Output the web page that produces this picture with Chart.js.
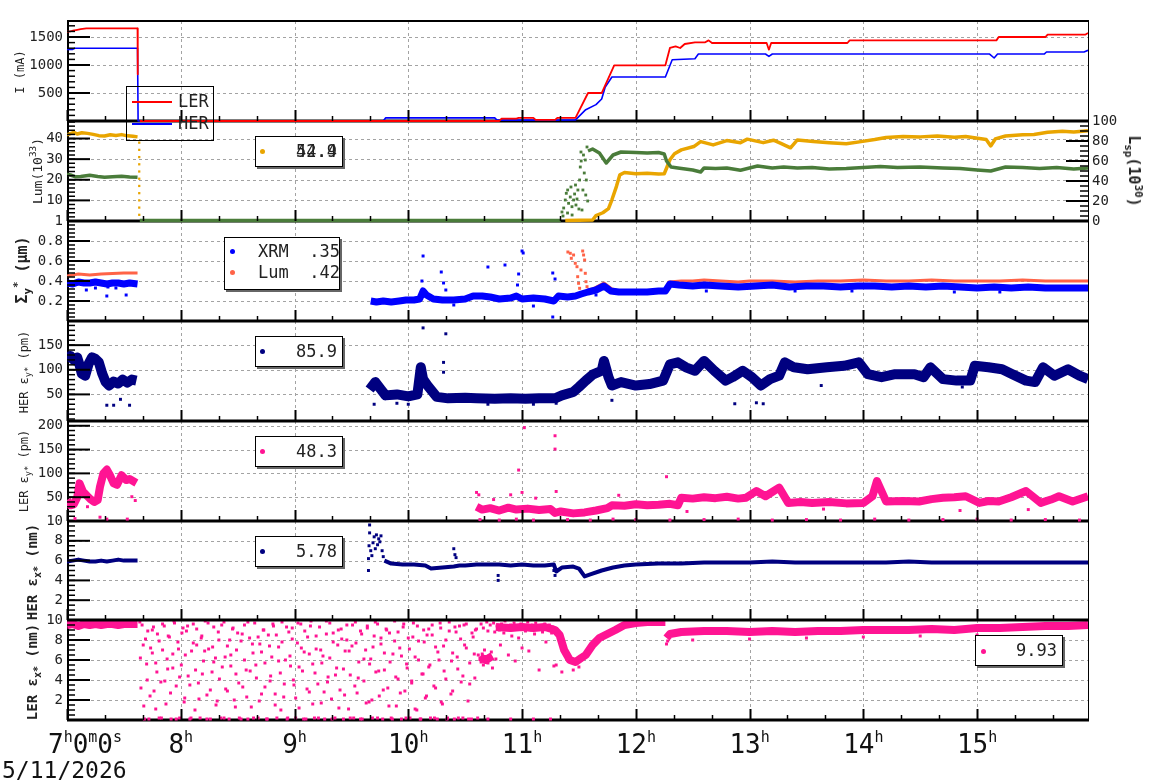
<!DOCTYPE html>
<html lang="en">
<head>
<meta charset="UTF-8" />
<title>Beam monitor 5/11/2026</title>
<script src="https://cdn.jsdelivr.net/npm/chart.js"></script>
<style>
  body { margin: 0; background: #fff; }
  #wrap { position: relative; width: 1160px; height: 782px; overflow: hidden; font-family: "DejaVu Sans Mono", monospace; color: #222; }
  canvas { position: absolute; left: 0; }
  .ttl { position: absolute; transform: translate(-50%, -50%) rotate(-90deg); white-space: nowrap; z-index: 5; }
  .ttl sub, .ttl sup { font-size: 72%; line-height: 0; }
  .box { position: absolute; border: 1px solid #000; background: #fff; box-shadow: 2px 2px 0 #666; font-size: 17px; z-index: 6; }
  .box span { position: absolute; line-height: 17px; white-space: pre; }
  .dot { width: 5px; height: 5px; border-radius: 50%; }
  .ln { height: 1.5px; width: 40px; }
</style>
</head>
<body>
<div id="wrap">
  <div class="ttl" style="left:20px;top:72px;font-size:12px">I (mA)</div>
  <div class="ttl" style="left:37px;top:171px;font-size:13px">Lum(10<sup>33</sup>)</div>
  <div class="ttl" style="left:22px;top:270px;font-size:15px;font-weight:bold">&Sigma;<sub>y</sub><sup>*</sup> (&mu;m)</div>
  <div class="ttl" style="left:24px;top:372px;font-size:12px">HER &epsilon;<sub>y*</sub> (pm)</div>
  <div class="ttl" style="left:24px;top:471px;font-size:12px">LER &epsilon;<sub>y*</sub> (pm)</div>
  <div class="ttl" style="left:32px;top:572px;font-size:14px;font-weight:bold">HER &epsilon;<sub>x*</sub> (nm)</div>
  <div class="ttl" style="left:32px;top:672px;font-size:14px;font-weight:bold">LER &epsilon;<sub>x*</sub> (nm)</div>
  <div class="ttl" style="left:1134px;top:171px;font-size:15px;font-weight:bold;transform:translate(-50%,-50%) rotate(90deg)">L<sub>sp</sub>(10<sup>30</sup>)</div>

  <div class="box" style="left:126px;top:86px;width:86px;height:53px;background:transparent;box-shadow:none">
    <span class="ln" style="left:5px;top:14px;background:#ff0000"></span><span style="left:51px;top:6px">LER</span>
    <span class="ln" style="left:5px;top:36px;background:#0000ff"></span><span style="left:51px;top:28px">HER</span>
  </div>
  <div class="box" style="left:255px;top:136px;width:86px;height:29px">
    <span class="dot" style="left:4px;top:12px;background:#e9a500"></span>
    <span style="right:5px;top:6px">52.9</span><span style="right:5px;top:6px">44.4</span>
  </div>
  <div class="box" style="left:224px;top:237px;width:114px;height:51px">
    <span class="dot" style="left:5px;top:11px;background:#0000ff"></span><span style="left:33px;top:5px">XRM  .35</span>
    <span class="dot" style="left:5px;top:32px;background:#ff6347"></span><span style="left:33px;top:26px">Lum  .42</span>
  </div>
  <div class="box" style="left:255px;top:336px;width:86px;height:29px">
    <span class="dot" style="left:4px;top:12px;background:#000080"></span><span style="right:5px;top:6px">85.9</span>
  </div>
  <div class="box" style="left:255px;top:436px;width:86px;height:29px">
    <span class="dot" style="left:4px;top:12px;background:#ff1493"></span><span style="right:5px;top:6px">48.3</span>
  </div>
  <div class="box" style="left:255px;top:536px;width:86px;height:29px">
    <span class="dot" style="left:4px;top:12px;background:#000080"></span><span style="right:5px;top:6px">5.78</span>
  </div>
  <div class="box" style="left:975px;top:635px;width:86px;height:29px">
    <span class="dot" style="left:5px;top:13px;background:#ff1493"></span><span style="right:5px;top:6px">9.93</span>
  </div>
</div>

<script>
// time axis in hours of 5/11/2026
const hourTicks = [7, 8, 9, 10, 11, 12, 13, 14, 15];
const timeMin = 7, timeMax = 15.975;

// panel 1: beam currents (mA)
const lerCurrent = [[7.00,1595],[7.03,1600],[7.05,1612],[7.08,1625],[7.12,1640],[7.17,1655],[7.62,1655],[7.622,834],[7.623,null],
  [7.64,0],[10.80,0],[10.82,44],[10.95,44],[10.97,55],[11.10,55],[11.12,20],[11.29,20],[11.31,55],[11.47,55],[11.58,500],[11.70,500],
  [11.81,994],[12.26,994],[12.30,1304],[12.35,1333],[12.39,1304],[12.43,1375],[12.52,1405],[12.61,1405],[12.64,1440],[12.67,1393],
  [13.15,1393],[13.17,1274],[13.19,1393],[13.86,1393],[13.88,1440],[15.17,1440],[15.19,1500],[15.60,1500],[15.62,1542],[15.95,1542],[15.975,1571]];
const herCurrent = [[7.00,1280],[7.05,1280],[7.07,1298],[7.62,1298],[7.625,0],[9.78,0],[9.80,55],[10.76,55],[10.78,15],[11.29,15],
  [11.47,20],[11.56,202],[11.65,292],[11.70,393],[11.73,600],[11.79,786],[12.26,786],[12.32,1095],[12.52,1113],[12.55,1196],
  [13.14,1196],[13.17,1155],[13.20,1196],[15.11,1196],[15.15,1125],[15.18,1196],[15.59,1196],[15.61,1232],[15.94,1232],[15.975,1262]];

// panel 2: luminosity (1e33, left) and specific luminosity (1e30, right)
const lum = [[7.00,41.8],[7.03,42.4],[7.06,43.0],[7.09,42.2],[7.13,42.8],[7.18,42.5],[7.23,42.0],[7.28,41.4],[7.33,41.2],[7.38,41.8],
  [7.43,41.5],[7.48,41.9],[7.53,41.3],[7.58,41.1],[7.62,40.8],[7.63,null],[11.38,0.3],[11.62,0.5],[11.65,2.6],[11.71,4],[11.76,6],
  [11.79,10.3],[11.83,16.8],[11.86,22.4],[11.90,23.5],[12.00,22.9],[12.10,23.1],[12.20,22.8],[12.25,22.9],[12.27,25.6],[12.30,29.7],
  [12.34,32.6],[12.40,34.5],[12.51,36.1],[12.57,38.5],[12.68,36.9],[12.80,39.0],[12.92,38.0],[12.98,39.7],[13.12,38.0],[13.21,39.2],
  [13.27,37.8],[13.36,35.5],[13.42,39.3],[13.56,38.6],[13.70,38.0],[13.85,37.5],[13.98,38.5],[14.10,39.5],[14.20,40.5],[14.35,41.0],
  [14.50,40.8],[14.65,41.2],[14.80,40.6],[14.90,41.0],[15.08,39.5],[15.12,36.4],[15.16,39.8],[15.25,41.2],[15.40,41.8],[15.50,42.0],
  [15.62,43.0],[15.75,43.5],[15.85,43.2],[15.975,43.8]];
const lumDrop = [[7.635,38],[7.635,34.5],[7.635,31],[7.635,27.5],[7.635,24],[7.635,20.5],[7.635,17],[7.635,13.5],[7.635,10],[7.635,6.5],[7.635,3]];
const lsp = [[7.00,46.7],[7.03,46.0],[7.07,44.3],[7.12,44.5],[7.20,45.7],[7.27,44.5],[7.33,43.7],[7.40,44.3],[7.48,44.8],[7.55,44.0],
  [7.62,43.7],[7.625,null],[7.64,0.4],[11.34,0.4],[11.345,null],[11.58,70],[11.62,72],[11.68,68],[11.74,58],[11.80,66],[11.87,69],
  [12.00,68.5],[12.10,68],[12.20,68.5],[12.25,67],[12.27,60],[12.31,54],[12.37,53],[12.50,51],[12.57,49],[12.60,53],[12.70,52.5],
  [12.80,53],[12.92,50.7],[13.07,55],[13.20,53],[13.30,54],[13.42,53],[13.55,53.5],[13.70,52],[13.85,52.5],[14.00,53.5],[14.15,54.5],
  [14.30,53.5],[14.50,54],[14.70,53],[14.85,52.5],[15.00,51],[15.12,50],[15.25,54],[15.40,53.5],[15.55,52.5],[15.70,53.5],[15.85,52],[15.975,53]];
const lspSpikes = [[11.351,9],[11.366,13],[11.380,21],[11.389,27.7],[11.401,31],[11.409,17.7],[11.424,24],[11.430,34],[11.439,14.3],
  [11.453,21],[11.462,27],[11.474,16],[11.483,22],[11.491,31],[11.506,41],[11.512,54],[11.518,69],[11.527,11],[11.535,31],[11.547,48],
  [11.556,61],[11.565,41],[11.571,74],[11.577,20],[11.36,5],[11.40,8],[11.44,6],[11.47,36],[11.50,12],[11.52,60],[11.54,66],[11.56,26]];

// panel 3: vertical beam size (um)
const xrmSigma = [[7.00,0.38],[7.05,0.37],[7.10,0.39],[7.15,0.38],[7.20,0.38],[7.25,0.39],[7.30,0.38],[7.35,0.37],[7.40,0.38],[7.45,0.38],
  [7.50,0.37],[7.55,0.38],[7.62,0.37],[7.63,null],[9.67,0.20],[9.72,0.19],[9.78,0.20],[9.85,0.19],[9.92,0.20],[9.98,0.21],[10.05,0.21],
  [10.10,0.22],[10.13,0.30],[10.16,0.26],[10.22,0.22],[10.30,0.21],[10.40,0.21],[10.50,0.22],[10.57,0.25],[10.65,0.25],[10.72,0.24],
  [10.80,0.22],[10.90,0.23],[10.95,0.25],[11.00,0.22],[11.10,0.23],[11.20,0.22],[11.28,0.20],[11.32,0.25],[11.40,0.24],[11.47,0.25],
  [11.52,0.27],[11.58,0.29],[11.65,0.31],[11.72,0.35],[11.78,0.30],[11.85,0.29],[12.00,0.29],[12.10,0.29],[12.20,0.30],[12.26,0.30],
  [12.30,0.37],[12.38,0.36],[12.50,0.35],[12.60,0.36],[12.75,0.35],[12.90,0.34],[13.05,0.35],[13.20,0.36],[13.35,0.34],[13.50,0.35],
  [13.65,0.35],[13.80,0.34],[13.95,0.35],[14.10,0.35],[14.25,0.34],[14.40,0.35],[14.55,0.34],[14.70,0.35],[14.85,0.34],[15.00,0.33],
  [15.15,0.34],[15.30,0.33],[15.45,0.34],[15.60,0.33],[15.75,0.33],[15.90,0.33],[15.975,0.33]];
const xrmOut = [[7.17,0.31],[7.25,0.33],[7.35,0.25],[7.36,0.34],[7.43,0.33],[7.52,0.26],[10.12,0.40],[10.13,0.65],[10.29,0.49],[10.31,0.38],
  [10.33,0.31],[10.70,0.54],[10.85,0.56],[10.96,0.36],[10.97,0.47],[11.00,0.70],[11.01,0.68],[11.27,0.48],[11.29,0.42],[11.27,0.04],
  [10.40,0.16],[11.10,0.15],[11.65,0.26],[12.62,0.30],[13.40,0.30],[14.80,0.29],[13.90,0.30],[15.20,0.29]];
const lumSigma = [[7.00,0.45],[7.05,0.46],[7.10,0.47],[7.20,0.46],[7.30,0.47],[7.40,0.475],[7.50,0.48],[7.62,0.48],[7.63,null],
  [11.58,0.31],[11.62,0.32],[11.72,0.38],[11.79,0.32],[11.85,0.30],[12.00,0.30],[12.10,0.30],[12.20,0.30],[12.26,0.31],[12.29,0.39],
  [12.40,0.40],[12.50,0.40],[12.60,0.41],[12.75,0.40],[12.90,0.39],[13.00,0.40],[13.20,0.40],[13.40,0.39],[13.60,0.40],[13.80,0.40],
  [14.00,0.41],[14.20,0.40],[14.40,0.40],[14.60,0.41],[14.80,0.40],[15.00,0.40],[15.20,0.40],[15.40,0.41],[15.60,0.40],[15.80,0.40],[15.975,0.40]];
const lumSigmaSpike = [[11.403,0.69],[11.424,0.677],[11.433,0.627],[11.453,0.66],[11.468,0.577],[11.483,0.543],[11.489,0.443],
  [11.497,0.377],[11.506,0.327],[11.518,0.51],[11.533,0.70],[11.541,0.66],[11.550,0.61],[11.556,0.477],[11.562,0.393],[11.571,0.343]];

// panel 4: HER vertical emittance (pm)
const herEy = [[7.00,118],[7.03,128],[7.06,120],[7.09,125],[7.11,110],[7.13,92],[7.16,88],[7.19,112],[7.22,125],[7.25,122],[7.28,115],
  [7.31,92],[7.34,75],[7.37,68],[7.41,76],[7.45,72],[7.49,80],[7.53,74],[7.57,80],[7.61,78],[7.62,null],
  [9.66,60],[9.71,75],[9.76,60],[9.80,48],[9.90,50],[10.00,46],[10.08,50],[10.11,105],[10.13,81],[10.17,68],[10.25,45],[10.35,42],
  [10.50,43],[10.60,42],[10.76,41],[10.90,42],[11.03,41],[11.15,42],[11.29,42],[11.35,48],[11.45,55],[11.50,65],[11.56,78],[11.62,90],
  [11.70,98],[11.72,118],[11.76,85],[11.79,68],[11.87,75],[12.00,68],[12.12,71],[12.24,78],[12.30,111],[12.37,115],[12.44,105],
  [12.52,98],[12.60,118],[12.69,98],[12.79,78],[12.85,85],[12.94,98],[13.02,85],[13.10,68],[13.18,81],[13.26,88],[13.31,115],
  [13.39,105],[13.51,101],[13.68,105],[13.83,108],[13.96,115],[14.04,91],[14.16,85],[14.28,91],[14.45,91],[14.53,85],[14.59,105],
  [14.70,81],[14.82,78],[14.94,78],[14.98,108],[15.10,105],[15.22,101],[15.31,91],[15.43,78],[15.51,75],[15.58,105],[15.68,88],
  [15.80,101],[15.90,88],[15.975,81]];
const herEyOut = [[7.35,28],[7.41,28],[7.55,28],[7.47,40],[10.13,185],[10.33,173],[10.31,115],[10.31,95],[11.79,38],[12.87,31],
  [13.06,33],[13.12,31],[14.87,65],[9.70,30],[10.00,30],[11.30,32],[13.63,68],[10.70,30],[11.10,30],[9.90,32]];

// panel 5: LER vertical emittance (pm)
const lerEy = [[7.00,44],[7.03,33],[7.06,35],[7.09,50],[7.11,79],[7.14,62],[7.18,52],[7.21,45],[7.24,40],[7.27,44],[7.29,72],[7.32,100],
  [7.35,108],[7.38,95],[7.41,79],[7.44,76],[7.48,96],[7.52,86],[7.55,88],[7.58,84],[7.61,80],[7.62,null],
  [10.60,30],[10.65,24],[10.72,27],[10.80,22],[10.88,28],[10.95,24],[11.05,26],[11.15,23],[11.25,25],[11.29,17],[11.34,20],[11.45,16],
  [11.55,18],[11.65,22],[11.75,27],[11.79,33],[11.90,32],[12.00,35],[12.10,33],[12.20,34],[12.30,36],[12.37,33],[12.40,49],[12.50,47],
  [12.60,50],[12.70,48],[12.80,51],[12.90,47],[12.97,49],[13.06,63],[13.14,52],[13.26,70],[13.34,38],[13.45,40],[13.55,38],[13.70,40],
  [13.85,37],[14.00,38],[14.08,52],[14.12,84],[14.20,41],[14.35,42],[14.49,41],[14.60,46],[14.70,49],[14.80,50],[14.90,52],[15.02,38],
  [15.10,42],[15.19,41],[15.30,50],[15.43,63],[15.56,38],[15.65,45],[15.72,52],[15.84,41],[15.975,52]];
const lerEyOut = [[7.18,30],[7.07,5],[7.35,4],[7.53,4],[7.29,8],[7.57,51],[7.60,43],[11.02,196],[11.29,179],[11.29,151],[10.97,107],
  [12.27,93],[11.85,54],[10.60,60],[10.62,55],[10.90,55],[11.00,60],[11.30,62],[10.75,45],[11.12,48],[10.63,3],[10.80,2],[10.95,4],
  [11.10,2],[11.40,3],[11.60,2],[11.80,4],[12.00,3],[12.30,2],[12.60,3],[12.90,4],[13.20,2],[13.50,3],[13.80,2],[14.10,4],[14.40,2],
  [14.70,3],[15.00,4],[15.30,2],[15.60,3],[15.90,2],[12.45,20],[13.65,25],[14.85,22],[15.45,24]];

// panel 6: HER horizontal emittance (nm)
const herEx = [[7.00,5.9],[7.05,6.0],[7.10,6.1],[7.15,6.0],[7.20,5.9],[7.25,5.9],[7.30,6.0],[7.35,5.9],[7.40,6.0],[7.45,6.1],[7.50,6.0],
  [7.55,6.0],[7.62,6.0],[7.63,null],[9.79,6.0],[9.85,5.7],[9.95,5.6],[10.05,5.6],[10.15,5.5],[10.20,5.2],[10.30,5.3],[10.40,5.4],
  [10.45,5.5],[10.50,5.5],[10.60,5.6],[10.70,5.6],[10.80,5.6],[10.90,5.5],[11.00,5.6],[11.10,5.5],[11.20,5.5],[11.28,5.6],[11.30,4.9],
  [11.35,5.3],[11.45,5.4],[11.50,5.2],[11.55,4.4],[11.60,4.6],[11.70,5.0],[11.80,5.3],[11.90,5.5],[12.00,5.6],[12.20,5.7],[12.40,5.7],
  [12.60,5.8],[12.80,5.8],[13.00,5.8],[13.20,5.9],[13.40,5.8],[13.60,5.8],[13.80,5.8],[14.00,5.8],[14.20,5.8],[14.40,5.9],[14.60,5.8],
  [14.80,5.8],[15.00,5.8],[15.20,5.8],[15.40,5.8],[15.60,5.8],[15.80,5.8],[15.975,5.8]];
const herExSpike = [[9.65,5.0],[9.65,6.2],[9.655,7.5],[9.66,8.8],[9.66,9.6],[9.67,7.0],[9.68,6.5],[9.69,7.8],[9.70,8.4],[9.71,7.2],
  [9.72,8.6],[9.73,7.6],[9.74,8.2],[9.75,7.9],[9.76,8.5],[9.77,7.0],[9.78,6.4],[10.40,7.2],[10.41,6.6],[10.42,6.3],[10.79,4.0],
  [10.79,4.5],[11.29,4.5],[11.28,5.0]];

// panel 7: LER horizontal emittance (nm)
const lerEx = [[7.00,9.5],[7.05,9.6],[7.10,9.4],[7.15,9.6],[7.20,9.5],[7.25,9.6],[7.30,9.5],[7.35,9.6],[7.40,9.6],[7.45,9.5],[7.50,9.6],
  [7.55,9.6],[7.62,9.6],[7.63,null],[10.63,6.3],[10.68,6.0],[10.74,6.4],[10.75,null],[10.77,9.3],[10.90,9.2],[11.00,9.3],[11.10,9.2],
  [11.20,9.3],[11.29,9.0],[11.33,8.5],[11.37,7.0],[11.42,6.0],[11.47,5.8],[11.52,6.2],[11.56,6.5],[11.62,7.5],[11.68,8.2],[11.75,8.6],
  [11.82,9.0],[11.90,9.5],[12.00,9.7],[12.10,9.8],[12.20,9.8],[12.26,9.8],[12.265,null],[12.27,8.2],[12.30,8.6],[12.40,8.8],[12.60,8.9],
  [12.80,8.9],[13.00,8.8],[13.20,8.9],[13.40,8.8],[13.60,8.9],[13.80,8.9],[14.00,9.0],[14.20,9.0],[14.40,9.0],[14.60,9.1],[14.80,9.0],
  [15.00,9.2],[15.20,9.2],[15.40,9.3],[15.60,9.4],[15.80,9.4],[15.975,9.5]];
const lerExMix = [[10.63,6.2],[10.64,5.8],[10.64,9.6],[10.65,6.6],[10.66,5.5],[10.66,9.2],[10.67,7.0],[10.68,6.0],[10.69,9.8],[10.70,5.7],
  [10.70,8.9],[10.71,6.4],[10.72,9.5],[10.73,6.8],[10.74,5.2],[10.75,9.7],[10.76,8.8],[10.77,6.1],[10.78,9.4],[10.80,9.0],[10.81,7.5],
  [10.82,9.6],[10.84,8.7],[10.85,9.9],[10.87,9.2],[10.88,6.5],[10.90,9.5],[10.91,8.4],[10.93,9.7],[10.94,5.9],[10.96,9.1],[10.97,8.2],
  [10.99,9.6],[11.00,7.2],[11.02,9.3],[11.03,8.9],[11.05,9.8],[11.06,6.9],[11.08,9.0],[11.09,9.5],[11.11,8.6],[11.12,9.7],[11.14,9.2],
  [11.15,5.0],[11.17,9.4],[11.18,8.8],[11.20,9.6],[11.21,7.8],[11.23,9.1],[11.24,9.5],[11.26,8.7],[11.27,9.3],[11.28,5.4],[10.70,0.1],
  [10.90,0.1],[11.10,0.1],[11.25,0.1],[12.27,7.6],[12.28,7.9],[11.30,5.5],[11.35,4.8],[11.45,5.0],[11.50,5.3],[12.50,8.0],[13.00,8.1],
  [13.50,8.2],[14.00,8.3],[14.50,8.4],[15.00,8.5]];
const lerExCloudA = [[7.64,9.8],[7.65,3.2],[7.67,7.5],[7.68,0.1],[7.70,5.6],[7.71,8.9],[7.73,2.4],[7.75,6.7],[7.76,9.3],[7.78,1.1],
  [7.79,4.8],[7.81,7.9],[7.83,0.2],[7.84,9.6],[7.86,3.9],[7.88,6.1],[7.89,8.4],[7.91,2.7],[7.93,5.2],[7.94,9.9],[7.96,0.1],[7.98,7.1],
  [7.99,4.3],[8.01,8.7],[8.03,1.8],[8.04,6.5],[8.06,9.4],[8.08,3.5],[8.09,0.2],[8.11,7.7],[8.13,5.0],[8.14,9.1],[8.16,2.1],[8.18,8.2],
  [8.19,4.6],[8.21,6.9],[8.23,0.1],[8.24,9.7],[8.26,3.0],[8.28,7.3],[8.29,5.8],[8.31,1.5],[8.33,8.8],[8.34,4.1],[8.36,9.5],[8.38,0.2],
  [8.39,6.3],[8.41,2.9],[8.43,8.0],[8.44,5.4],[8.46,9.2],[8.48,1.3],[8.49,7.0],[8.51,3.7],[8.53,0.1],[8.54,8.6],[8.56,6.0],[8.58,2.3],
  [8.59,9.8],[8.61,4.9],[8.63,7.6],[8.64,0.2],[8.66,5.5],[8.68,8.3],[8.69,1.9],[8.71,6.8],[8.73,9.0],[8.74,3.3],[8.76,0.1],[8.78,7.4],
  [8.79,4.4],[8.81,9.6],[8.83,2.6],[8.84,8.5],[8.86,5.9],[8.88,1.0],[8.89,7.8],[8.91,3.6],[8.93,9.3],[8.94,0.2],[8.96,6.4],[8.98,8.1],
  [8.99,4.0],[9.01,2.2],[9.03,9.7],[9.04,5.3],[9.06,7.2],[9.08,0.1],[9.09,8.9],[9.11,3.1],[9.13,6.6],[9.14,9.4],[9.16,1.6],[9.18,4.7],
  [9.19,8.4],[9.21,0.2],[9.23,7.0],[9.24,5.7],[9.26,2.8],[9.28,9.9],[9.29,3.8],[9.31,6.2],[9.33,0.1],[9.34,8.7],[9.36,4.5],[9.38,7.5],
  [9.39,1.2],[9.41,9.1],[9.43,5.1],[9.44,2.5],[9.46,8.0],[9.48,6.9],[9.49,0.2],[9.51,9.5],[9.53,3.4],[9.54,7.7],[9.56,4.2],[9.58,0.1],
  [9.59,8.6],[9.61,6.1],[9.63,1.7],[9.64,9.2],[9.66,5.6],[9.68,2.0],[9.69,7.3],[9.71,9.8],[9.73,0.2],[9.74,4.9],[9.76,8.2],[9.78,3.0],
  [9.79,6.7],[9.81,9.0],[9.83,1.4],[9.84,5.8],[9.86,0.1],[9.88,7.9],[9.89,4.3],[9.91,8.8],[9.93,2.7],[9.94,6.4],[9.96,9.6],[9.98,0.2],
  [9.99,5.2],[10.01,7.1],[10.03,3.9],[10.04,8.3],[10.06,1.1],[10.08,9.4],[10.09,6.0],[10.11,0.1],[10.13,4.6],[10.14,7.8],[10.16,2.4],
  [10.18,9.1],[10.19,5.5],[10.21,8.5],[10.23,0.2],[10.24,3.2],[10.26,6.8],[10.28,9.7],[10.29,1.8],[10.31,7.4],[10.33,4.1],[10.34,0.1],
  [10.36,8.9],[10.38,5.9],[10.39,2.9],[10.41,9.3],[10.43,6.3],[10.44,0.2],[10.46,8.1],[10.48,4.4],[10.49,9.5],[10.51,7.2],[10.53,0.1],
  [10.54,3.6],[10.56,8.7],[10.58,6.6],[10.59,9.0],[10.61,0.2]];
const lerExCloudB = [[7.645,6.2],[7.66,9.5],[7.675,1.4],[7.69,8.1],[7.705,4.0],[7.72,0.1],[7.735,7.2],[7.75,9.0],[7.765,2.9],[7.78,5.7],
  [7.795,8.6],[7.81,0.2],[7.825,3.8],[7.84,7.0],[7.855,9.4],[7.87,1.6],[7.885,5.1],[7.90,8.3],[7.915,0.1],[7.93,6.6],[7.945,9.7],
  [7.96,3.4],[7.975,7.8],[7.99,0.2],[8.005,5.5],[8.02,9.2],[8.035,2.2],[8.05,8.9],[8.065,4.4],[8.08,0.1],[8.095,6.9],[8.11,9.6],
  [8.125,1.0],[8.14,7.5],[8.155,3.7],[8.17,0.2],[8.185,8.4],[8.20,5.9],[8.215,9.9],[8.23,2.5],[8.245,7.1],[8.26,0.1],[8.275,4.8],
  [8.29,9.3],[8.305,6.2],[8.32,1.9],[8.335,8.0],[8.35,0.2],[8.365,5.3],[8.38,9.8],[8.395,3.1],[8.41,7.4],[8.425,0.1],[8.44,6.5],
  [8.455,9.1],[8.47,2.0],[8.485,4.6],[8.50,8.7],[8.515,0.2],[8.53,7.9],[8.545,3.3],[8.56,9.5],[8.575,5.0],[8.59,0.1],[8.605,8.2],
  [8.62,1.3],[8.635,6.7],[8.65,9.7],[8.665,4.2],[8.68,0.2],[8.695,7.6],[8.71,2.6],[8.725,9.0],[8.74,5.7],[8.755,0.1],[8.77,8.5],
  [8.785,3.9],[8.80,6.3],[8.815,9.4],[8.83,1.5],[8.845,0.2],[8.86,7.3],[8.875,4.7],[8.89,9.8],[8.905,2.3],[8.92,6.0],[8.935,0.1],
  [8.95,8.8],[8.965,5.4],[8.98,9.2],[8.995,3.5],[9.01,0.2],[9.025,7.7],[9.04,1.2],[9.055,9.6],[9.07,4.9],[9.085,6.8],[9.10,0.1],
  [9.115,8.3],[9.13,2.8],[9.145,9.9],[9.16,5.6],[9.175,0.2],[9.19,7.1],[9.205,3.6],[9.22,9.3],[9.235,1.7],[9.25,6.4],[9.265,0.1],
  [9.28,8.6],[9.295,4.3],[9.31,9.7],[9.325,2.1],[9.34,7.8],[9.355,0.2],[9.37,5.2],[9.385,9.0],[9.40,3.0],[9.415,8.1],[9.43,0.1],
  [9.445,6.9],[9.46,9.5],[9.475,1.1],[9.49,4.5],[9.505,7.4],[9.52,0.2],[9.535,9.8],[9.55,2.7],[9.565,5.8],[9.58,8.9],[9.595,0.1],
  [9.61,3.9],[9.625,7.0],[9.64,9.4],[9.655,1.8],[9.67,6.1],[9.685,0.2],[9.70,8.4],[9.715,4.8],[9.73,9.6],[9.745,2.4],[9.76,7.6],
  [9.775,0.1],[9.79,5.0],[9.805,9.1],[9.82,3.2],[9.835,8.7],[9.85,0.2],[9.865,6.6],[9.88,9.9],[9.895,1.4],[9.91,4.1],[9.925,7.2],
  [9.94,0.1],[9.955,9.3],[9.97,2.9],[9.985,5.6],[10.00,8.2],[10.015,0.2],[10.03,3.7],[10.045,9.7],[10.06,6.3],[10.075,1.0],[10.09,7.9],
  [10.105,0.1],[10.12,4.6],[10.135,9.0],[10.15,2.2],[10.165,8.5],[10.18,5.3],[10.195,0.2],[10.21,9.5],[10.225,3.4],[10.24,7.3],
  [10.255,0.1],[10.27,6.0],[10.285,9.2],[10.30,1.6],[10.315,4.9],[10.33,8.0],[10.345,0.2],[10.36,9.8],[10.375,2.6],[10.39,6.7],
  [10.405,0.1],[10.42,8.8],[10.435,5.1],[10.45,9.4],[10.465,3.8],[10.48,0.2],[10.495,7.5],[10.51,9.6],[10.525,1.9],[10.54,5.7],
  [10.555,0.1],[10.57,8.3],[10.585,4.2],[10.60,9.1],[10.615,6.5]];

const CLIP = { left: 0, top: 0, right: 0, bottom: 2 };
const pts = a => a.map(([x, y]) => ({ x, y }));
const band = (data, color, width, axis = 'y') => ({
  data: pts(data), showLine: true, borderColor: color, borderWidth: width, pointRadius: 0,
  yAxisID: axis, clip: CLIP, spanGaps: false, borderJoinStyle: 'round'
});
const dots = (data, color, r = 2.1, axis = 'y') => ({
  data: pts(data), showLine: false, backgroundColor: color, borderColor: color, pointStyle: 'rect',
  pointRadius: r, pointBorderWidth: 0, yAxisID: axis, clip: CLIP
});

const panels = [
  { top: 21, bottom: 121, min: 0, max: 1786, major: [500, 1000, 1500], minor: 100, topLine: true,
    sets: [band(lerCurrent, '#ff0000', 1.8), band(herCurrent, '#0000ff', 1.6)] },
  { top: 121, bottom: 221, min: 0, max: 48.5, major: [10, 20, 30, 40], minor: 2,
    right: { min: 0, max: 100, major: [0, 20, 40, 60, 80, 100], minor: 5 },
    sets: [band(lsp, '#4a7c3a', 3.5, 'y2'), dots(lspSpikes, '#4a7c3a', 2, 'y2'),
           band(lum, '#e9a500', 3.5), dots(lumDrop, '#e9a500', 1.6)] },
  { top: 221, bottom: 321, min: 0, max: 1, major: [0.2, 0.4, 0.6, 0.8, 1], minor: 0.04,
    sets: [band(xrmSigma, '#0000ff', 7), dots(xrmOut, '#0000ff'), band(lumSigma, '#ff6347', 3), dots(lumSigmaSpike, '#ff6347')] },
  { top: 321, bottom: 421, min: -4, max: 199, major: [50, 100, 150], minor: 10,
    sets: [band(herEy, '#000080', 10), dots(herEyOut, '#000080')] },
  { top: 421, bottom: 521, min: 0, max: 210, major: [50, 100, 150, 200], minor: 10,
    sets: [band(lerEy, '#ff1493', 8), dots(lerEyOut, '#ff1493')] },
  { top: 521, bottom: 620, min: 0, max: 10, major: [2, 4, 6, 8, 10], minor: 0.5,
    sets: [band(herEx, '#000080', 4), dots(herExSpike, '#000080')] },
  { top: 620, bottom: 720, min: 0, max: 10, major: [2, 4, 6, 8, 10], minor: 0.5, xLabels: true,
    sets: [dots(lerExCloudA, '#ff1493'), dots(lerExCloudB, '#ff1493'), dots(lerExMix, '#ff1493'), band(lerEx, '#ff1493', 8)] }
];

function seg(ctx, w, x1, y1, x2, y2) {
  ctx.lineWidth = w;
  ctx.beginPath();
  ctx.moveTo(x1, y1);
  ctx.lineTo(x2, y2);
  ctx.stroke();
}

function makeFrame(p) {
  return {
    id: 'frame',
    beforeDatasetsDraw(chart) {
      const { ctx, chartArea: a } = chart;
      const x = chart.scales.x, y = chart.scales.y;
      ctx.save();
      ctx.strokeStyle = '#a3a3a3';
      ctx.lineWidth = 1;
      ctx.setLineDash([3, 3]);
      ctx.beginPath();
      hourTicks.slice(1).forEach(h => {
        const px = Math.round(x.getPixelForValue(h)) + 0.5;
        ctx.moveTo(px, a.top); ctx.lineTo(px, a.bottom);
      });
      p.major.forEach(v => {
        const py = Math.round(y.getPixelForValue(v)) + 0.5;
        if (py > a.top + 2) { ctx.moveTo(a.left, py); ctx.lineTo(a.right, py); }
      });
      ctx.stroke();
      ctx.setLineDash([]);
      ctx.strokeStyle = '#000';
      seg(ctx, 2, a.left + 1, a.top, a.left + 1, a.bottom);
      seg(ctx, 1, a.right + 0.5, a.top, a.right + 0.5, a.bottom);
      seg(ctx, 3, a.left, a.bottom, a.right + 1, a.bottom);
      if (p.topLine) seg(ctx, 2, a.left, a.top, a.right + 1, a.top);
      ctx.restore();
    },
    afterDatasetsDraw(chart) {
      const { ctx, chartArea: a } = chart;
      const x = chart.scales.x, y = chart.scales.y;
      ctx.save();
      ctx.strokeStyle = '#000';
      // y ticks, drawn inward like the original
      for (let i = 0; ; i++) {
        const v = p.min > 0 ? p.min + i * p.minor : i * p.minor;
        if (v > y.max + 1e-9) break;
        const py = y.getPixelForValue(v);
        seg(ctx, 1.5, a.left, py, a.left + 8, py);
      }
      p.major.forEach(v => {
        const py = y.getPixelForValue(v);
        seg(ctx, 2, a.left, py, a.left + 23, py);
      });
      ctx.fillStyle = '#222';
      ctx.font = '14px "DejaVu Sans Mono"';
      ctx.textAlign = 'right';
      ctx.textBaseline = 'middle';
      p.major.forEach(v => ctx.fillText(String(v), a.left - 4, y.getPixelForValue(v)));

      if (p.right) {
        const r = chart.scales.y2;
        for (let i = 0; ; i++) {
          const v = i * p.right.minor;
          if (v > r.max + 1e-9) break;
          const py = r.getPixelForValue(v);
          seg(ctx, 1.5, a.right - 8, py, a.right, py);
        }
        ctx.textAlign = 'left';
        p.right.major.forEach(v => {
          const py = r.getPixelForValue(v);
          seg(ctx, 2, a.right - 22, py, a.right, py);
          ctx.fillText(String(v), a.right + 4, py);
        });
      }

      // time ticks every 20 minutes
      for (let i = 0; i <= 27; i++) {
        const h = timeMin + i / 3;
        if (h > x.max) break;
        const px = Math.round(x.getPixelForValue(h)) + 0.5;
        const major = i % 3 === 0;
        seg(ctx, major ? 2 : 1.5, px, a.bottom, px, a.bottom - (major ? 11 : 5));
      }

      if (p.xLabels) {
        ctx.fillStyle = '#111';
        ctx.textAlign = 'left';
        ctx.textBaseline = 'alphabetic';
        const big = '26px "DejaVu Sans Mono"', small = '15px "DejaVu Sans Mono"';
        const base = a.bottom + 33;
        hourTicks.forEach((h, i) => {
          const parts = i === 0
            ? [['7', 0], ['h', 1], ['0', 0], ['m', 1], ['0', 0], ['s', 1]]
            : [[String(h), 0], ['h', 1]];
          let w = 0;
          parts.forEach(([t, s]) => { ctx.font = s ? small : big; w += ctx.measureText(t).width; });
          let cx = i === 0 ? 48 : x.getPixelForValue(h) - w / 2;
          parts.forEach(([t, s]) => {
            ctx.font = s ? small : big;
            ctx.fillText(t, cx, s ? base - 11 : base);
            cx += ctx.measureText(t).width;
          });
        });
        ctx.font = '23px "DejaVu Sans Mono"';
        ctx.fillText('5/11/2026', 2, a.bottom + 58);
      }
      ctx.restore();
    }
  };
}

const wrap = document.getElementById('wrap');
panels.forEach(p => {
  const padTop = 14;
  const padBottom = p.xLabels ? 782 - p.bottom : 14;
  const c = document.createElement('canvas');
  c.width = 1160;
  c.height = p.bottom - p.top + padTop + padBottom;
  c.style.top = (p.top - padTop) + 'px';
  wrap.insertBefore(c, wrap.firstChild);
  const scales = {
    x: { type: 'linear', display: false, min: timeMin, max: timeMax },
    y: { type: 'linear', display: false, min: p.min, max: p.max }
  };
  if (p.right) scales.y2 = { type: 'linear', display: false, position: 'right', min: p.right.min, max: p.right.max };
  new Chart(c, {
    type: 'line',
    data: { datasets: p.sets },
    options: {
      responsive: false,
      animation: false,
      events: [],
      layout: { padding: { left: 67, right: 72, top: padTop, bottom: padBottom } },
      scales,
      plugins: { legend: { display: false }, tooltip: { enabled: false } }
    },
    plugins: [makeFrame(p)]
  });
});
</script>
</body>
</html>
